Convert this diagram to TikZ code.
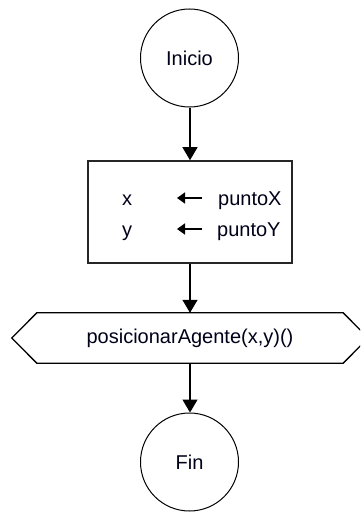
\documentclass[tikz,border=0pt]{standalone}
\usepackage{fontspec}
\setmainfont{Liberation Sans}
\usetikzlibrary{arrows.meta}
\begin{document}
\begin{tikzpicture}[x=1pt,y=-1pt,
  every node/.style={font=\fontsize{20}{24}\selectfont, text=black!90!blue},
  termbox/.style={circle, draw, line width=1pt, minimum size=98pt, inner sep=0pt},
  assignbox/.style={rectangle, draw, line width=1.6pt, draw=black!85, minimum width=204pt, minimum height=102pt, inner sep=0pt},
  callbox/.style={rectangle, minimum width=306pt, minimum height=50pt, inner sep=0pt},
  flow/.style={line width=1.3pt, -{Triangle[width=15pt,length=13pt]}},
  setarrow/.style={line width=1.6pt, -{Triangle[width=11pt,length=8pt]}},
  lbl/.style={anchor=base west, inner sep=0pt}
]
\clip (0,0) rectangle (360,514);
\fill[white] (0,0) rectangle (360,514);

\node[termbox] (ini) at (189.5,58) {Inicio};
\node[assignbox] (asg) at (190,212) {};
\node[callbox] (call) at (190,338) {posicionarAgente(x,y)()};
\draw[line width=1.3pt] (call.north west) -- (call.north east) -- ([xshift=25pt]call.east)
  -- (call.south east) -- (call.south west) -- ([xshift=-25pt]call.west) -- cycle;
\node[termbox] (fin) at (189.5,462) {Fin};

\node[lbl] (vx) at (122,205) {x};
\node[lbl] (vy) at (122,236) {y};
\node[lbl] (px) at (218,205) {puntoX};
\node[lbl] (py) at (217,236) {puntoY};
\coordinate (a1s) at (202,198);
\coordinate (a1e) at (177,198);
\coordinate (a2s) at (202,229);
\coordinate (a2e) at (177,229);
\draw[setarrow] (a1s) -- (a1e);
\draw[setarrow] (a2s) -- (a2e);

\draw[flow] (ini.south -| asg.north) -- (asg.north);
\draw[flow] (asg.south) -- (call.north);
\draw[flow] (call.south) -- (call.south |- fin.north);
\end{tikzpicture}
\end{document}
